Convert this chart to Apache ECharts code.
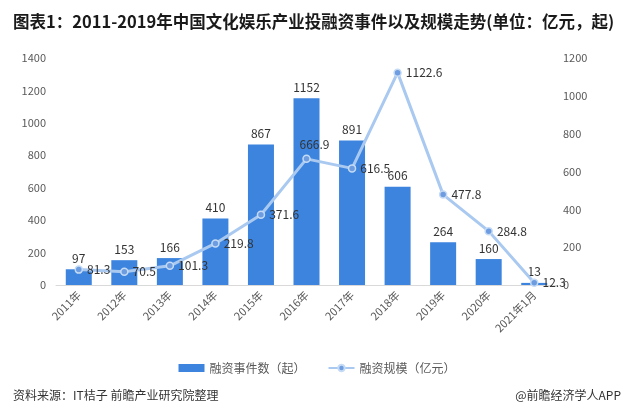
<!DOCTYPE html>
<html><head><meta charset="utf-8">
<script src="https://cdn.jsdelivr.net/npm/echarts@6/dist/echarts.min.js"></script>
<style>html,body{margin:0;padding:0;background:#fff}#c{width:634px;height:413px}</style>
</head><body><div id="c"></div>
<script>
var categories = ['2011年','2012年','2013年','2014年','2015年','2016年','2017年','2018年','2019年','2020年','2021年1月'];
var eventCounts = [97,153,166,410,867,1152,891,606,264,160,13];
var fundingScale = [81.3,70.5,101.3,219.8,371.6,666.9,616.5,1122.6,477.8,284.8,12.3];
var leftTicks = [0,1400,200];
var rightTicks = [0,1200,200];

var font = '"Noto Sans CJK SC", "Noto Sans", sans-serif';
var chart = echarts.init(document.getElementById('c'));
chart.setOption({
  animation: false,
  textStyle: {fontFamily: font},
  title: [{
    text: '图表1：2011-2019年中国文化娱乐产业投融资事件以及规模走势(单位：亿元，起)',
    left: 8, top: 8,
    textStyle: {fontSize: 16.5, fontWeight: 'bold', color: '#1a1a1a', fontFamily: font}
  },{
    text: '资料来源：IT桔子 前瞻产业研究院整理',
    left: 8, top: 384,
    textStyle: {fontSize: 12, fontWeight: 'normal', color: '#333', fontFamily: font}
  },{
    text: '@前瞻经济学人APP',
    right: 8, top: 384,
    textStyle: {fontSize: 12, fontWeight: 'normal', color: '#333', fontFamily: font}
  }],
  legend: {
    top: 357, left: 'center', itemGap: 22,
    itemWidth: 26, itemHeight: 8,
    textStyle: {fontSize: 12, color: '#595959'},
    data: [{name: '融资事件数（起）', icon: 'rect'}, {name: '融资规模（亿元）'}]
  },
  grid: {left: 56, right: 77, top: 58, bottom: 128},
  xAxis: {
    type: 'category', data: categories,
    axisLine: {lineStyle: {color: '#d9d9d9'}},
    axisTick: {show: false},
    axisLabel: {rotate: 45, color: '#595959', fontSize: 11, interval: 0, margin: 8}
  },
  yAxis: [{
    type: 'value', min: leftTicks[0], max: leftTicks[1], interval: leftTicks[2],
    splitLine: {show: false}, axisLine: {show: false}, axisTick: {show: false},
    axisLabel: {color: '#595959', fontSize: 11, margin: 10, formatter: function(v){ return String(v); }}
  },{
    type: 'value', min: rightTicks[0], max: rightTicks[1], interval: rightTicks[2],
    splitLine: {show: false}, axisLine: {show: false}, axisTick: {show: false},
    axisLabel: {color: '#595959', fontSize: 11, margin: 6, formatter: function(v){ return String(v); }}
  }],
  series: [{
    name: '融资事件数（起）', type: 'bar', data: eventCounts, barWidth: 26,
    itemStyle: {color: '#3c84de'},
    label: {show: true, position: 'top', color: '#333', fontSize: 12}
  },{
    name: '融资规模（亿元）', type: 'line', yAxisIndex: 1,
    data: fundingScale.map(function(v, i){
      if (i === 5) return {value: v, label: {position: 'top', offset: [8, 0]}};
      return v;
    }),
    symbol: 'circle', symbolSize: 7,
    lineStyle: {color: '#a9c9f0', width: 3},
    itemStyle: {color: '#6d9de0', borderColor: '#c5dbf5', borderWidth: 1.5},
    label: {show: true, position: 'right', color: '#333', fontSize: 12, distance: 4}
  }]
});
</script></body></html>
